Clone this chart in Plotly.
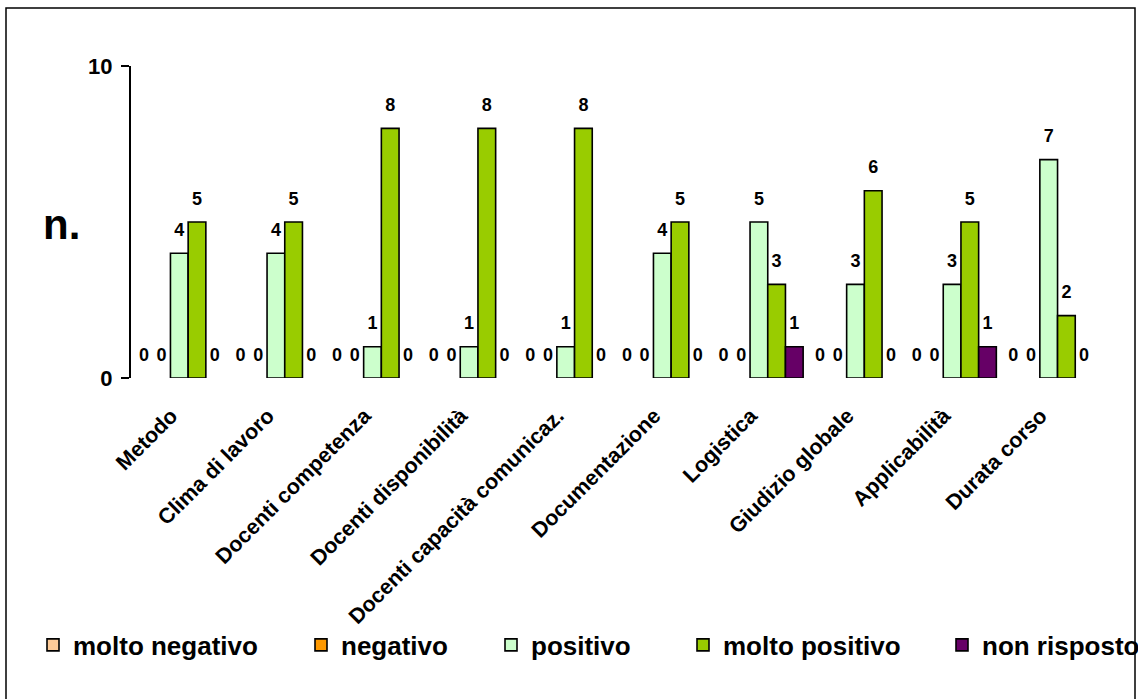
import plotly.graph_objects as go

categories = ["Metodo", "Clima di lavoro", "Docenti competenza", "Docenti disponibilità",
              "Docenti capacità comunicaz.", "Documentazione", "Logistica",
              "Giudizio globale", "Applicabilità", "Durata corso"]
series_names = ["molto negativo", "negativo", "positivo", "molto positivo", "non risposto"]
molto_negativo = [0, 0, 0, 0, 0, 0, 0, 0, 0, 0]
negativo = [0, 0, 0, 0, 0, 0, 0, 0, 0, 0]
positivo = [4, 4, 1, 1, 1, 4, 5, 3, 3, 7]
molto_positivo = [5, 5, 8, 8, 8, 5, 3, 6, 5, 2]
non_risposto = [0, 0, 0, 0, 0, 0, 1, 0, 1, 0]
y_ticks = [0, 10]
colors = ["#FFCC99", "#FF9900", "#CCFFCC", "#99CC00", "#660066"]

values = [molto_negativo, negativo, positivo, molto_positivo, non_risposto]

W, H = 1138, 699
L, R, T, B = 131, 41, 66, 321
pw, ph = W - L - R, H - T - B

def px(x):
    return (x - L) / pw

def py(y):
    return (H - B - y) / ph

FONT = "Liberation Sans, Arial, sans-serif"
fig = go.Figure()
legend_names = ["legend", "legend2", "legend3", "legend4", "legend5"]
for i, (name, vals, col) in enumerate(zip(series_names, values, colors)):
    # zero-height bars are not drawn (as in the original), their "0" label still is
    fig.add_trace(go.Bar(
        x=categories, y=[v if v != 0 else None for v in vals], name=name, offsetgroup=str(i),
        marker=dict(color=col, line=dict(color="black", width=1.6)),
        legend=legend_names[i], hoverinfo="skip",
    ))
for i, (name, vals) in enumerate(zip(series_names, values)):
    fig.add_trace(go.Scatter(
        x=categories, y=vals, mode="markers+text", text=[str(v) for v in vals],
        textposition="top center", offsetgroup=str(i),
        marker=dict(size=19, color="rgba(0,0,0,0)"),
        textfont=dict(family=FONT, size=18, color="black", weight="bold"),
        showlegend=False, hoverinfo="skip", cliponaxis=False,
    ))

legend_text_x = [73, 341, 531, 723, 982]
leg_common = dict(orientation="h", yanchor="middle", xanchor="left", itemwidth=30,
                  font=dict(family=FONT, size=26, color="black", weight="bold"),
                  bgcolor="rgba(0,0,0,0)", borderwidth=0)
layout_legends = {}
for i, ln in enumerate(legend_names):
    layout_legends[ln] = dict(x=px(legend_text_x[i] - 40), y=py(645), **leg_common)

fig.update_layout(
    width=W, height=H, margin=dict(l=L, r=R, t=T, b=B, pad=0, autoexpand=False),
    paper_bgcolor="white", plot_bgcolor="white",
    barmode="group", bargap=0.084, bargroupgap=0,
    scattermode="group", scattergap=0.084,
    showlegend=True,
    xaxis=dict(type="category", tickangle=-45, showline=False, ticks="", showgrid=False,
               tickfont=dict(family=FONT, size=21.5, color="black", weight="bold"),
               ticklabelstandoff=20, ticklabelshift=-8,
               zeroline=False),
    yaxis=dict(range=[0, 10], tickvals=y_ticks, showgrid=False, zeroline=False,
               showline=True, linecolor="black", linewidth=2,
               ticks="outside", ticklen=8, tickwidth=2, tickcolor="black",
               ticklabelstandoff=4,
               tickfont=dict(family=FONT, size=22, color="black", weight="bold")),
    annotations=[dict(text="n.", xref="paper", yref="paper", x=px(61), y=py(224),
                      xanchor="center", yanchor="middle", showarrow=False,
                      font=dict(family=FONT, size=42, color="black", weight="bold"))],
    shapes=[dict(type="rect", xref="paper", yref="paper",
                 x0=px(6), x1=px(1135), y0=py(8), y1=py(705),
                 line=dict(color="black", width=1.5), fillcolor="rgba(0,0,0,0)",
                 layer="below")],
    **layout_legends,
)

fig.write_html("out.html", config={"displayModeBar": False},
               post_script="document.body.style.margin='0';document.body.style.overflow='hidden';")
